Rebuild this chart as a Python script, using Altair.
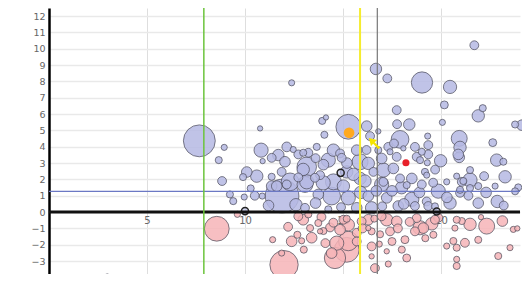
import altair as alt
import pandas as pd

# Positive-change bubbles (x, y, magnitude)
up_x = [21.70,12.38,16.68,17.26,19.03,20.46,20.17,17.74,22.13,21.90,17.76,18.38,20.07,23.78,24.13,13.94,14.13,15.27,14.05,16.21,16.38,16.80,17.91,19.32,20.93,22.64,10.77,7.67,8.94,8.66,8.83,10.82,10.90,10.09,9.90,10.60,10.29,11.36,11.36,11.70,12.13,12.04,11.87,12.46,12.30,12.72,9.23,9.40,9.96,10.88,11.89,
        18.67,12.97,13.66,14.51,14.85,14.25,15.70,15.87,16.80,17.31,17.40,17.74,18.08,18.76,13.15,15.19,16.29,16.97,17.06,16.55,17.57,17.91,18.51,18.25,13.83,13.15,14.51,15.87,17.06,
        19.35,19.02,20.97,20.93,19.98,19.30,19.18,22.84,23.18,21.48,23.27,21.48,20.80,21.06,21.90,20.29,23.94,22.76,19.27,18.93,20.46,21.90,22.87,23.78,20.97,21.48,19.27,19.69,
        12.97,13.06,13.99,14.42,15.02,15.53,16.12,16.29,16.97,17.23,17.99,18.51,19.02,19.86,20.97,21.14,20.88,19.35,12.72,11.36,13.23,14.93,13.57,11.62,12.13,13.74,15.27,15.70,16.46,17.82,18.67,19.35,13.06,14.25,
        12.60,13.60,14.00,15.90,16.70,17.50,18.10,18.90,19.60,20.30,21.40,22.30,22.20,15.20,17.60,19.70,13.60,11.20,10.50,14.90,17.00,23.20,16.20]
up_y = [10.21,7.91,8.76,8.18,7.93,7.66,6.56,6.24,6.36,5.89,5.38,5.36,5.49,5.36,5.32,5.58,5.79,5.22,4.73,5.26,4.65,4.94,4.45,4.65,4.51,4.25,5.12,4.36,3.96,3.18,1.90,3.79,3.12,2.45,2.14,2.20,1.45,2.16,1.59,3.49,3.99,3.08,2.46,3.83,1.85,2.12,1.08,0.67,0.92,0.98,0.98,
        3.99,3.63,3.99,3.79,3.59,3.18,3.79,3.08,3.79,3.99,3.69,3.38,3.90,3.38,2.77,2.46,2.98,3.28,2.57,2.46,2.67,2.06,2.06,1.65,2.26,1.85,1.85,2.06,1.85,
        4.10,3.69,3.96,3.35,3.14,3.02,2.46,3.18,3.08,2.57,2.16,1.96,2.20,1.85,1.59,1.85,1.51,1.59,2.26,3.18,0.55,0.55,0.65,1.27,1.36,1.47,0.65,0.35,
        2.61,1.69,1.79,0.98,1.59,2.31,1.90,0.98,1.69,0.87,1.49,0.78,1.69,1.28,1.18,1.90,3.53,3.53,3.53,3.32,3.63,3.32,2.10,1.59,1.69,1.08,0.87,0.26,0.26,0.37,0.37,0.37,0.26,0.17,
        0.45,0.55,2.90,1.20,1.30,1.30,0.50,1.20,1.80,0.90,1.00,1.20,2.20,3.00,4.20,2.60,3.30,0.40,1.00,0.30,0.35,0.40,3.80]
up_pop = [25,12,42,25,144,56,20,25,16,49,25,42,12,16,36,16,9,196,16,36,25,9,100,12,81,20,9,324,12,16,25,64,9,36,16,49,16,16,36,42,30,36,25,12,100,25,16,16,12,12,361,
          25,16,16,49,25,64,36,81,16,25,12,25,9,25,121,49,49,36,64,25,36,25,36,16,25,64,81,49,25,
          25,16,49,36,49,12,16,49,16,16,49,64,12,25,16,12,16,12,12,16,49,36,49,16,16,16,25,16,
          49,81,64,100,49,49,49,36,64,36,49,64,25,64,25,16,36,25,25,25,25,25,25,36,25,36,64,36,49,36,25,25,25,16,
          49,36,36,49,36,36,36,36,25,36,25,36,25,36,25,25,25,36,25,25,25,25,25]

# Negative-change bubbles
down_x = [9.61,8.56,2.97,11.41,12.38,12.67,11.99,11.87,12.72,12.97,12.89,13.32,13.74,13.83,14.34,14.85,15.02,15.27,14.68,15.27,14.59,14.42,15.19,15.95,16.29,16.46,16.29,16.46,16.85,16.97,17.23,17.40,17.74,18.16,18.67,18.25,16.63,17.31,16.46,18.76,17.23,13.40,13.23,14.00,14.51,15.70,16.89,18.93,19.53,19.86,20.29,20.63,20.80,21.22,21.06,21.48,20.80,20.80,22.04,22.33,23.13,23.69,23.89,22.92,23.52,15.19,19.10,19.61,19.69,20.80,20.71,
          13.90,16.00,17.80,18.40,15.70,17.50,19.20,16.60,14.10,12.20,13.00,21.90,18.00]
down_y = [-0.14,-1.02,-4.00,-1.69,-1.79,-1.39,-3.22,-2.51,-0.26,-0.47,-1.76,-0.98,-0.67,-1.18,-0.94,-1.08,-0.47,-0.78,-1.90,-1.77,-2.81,-2.51,-2.31,-0.57,-0.47,-1.18,-0.98,-2.10,-1.96,-0.26,-0.47,-1.18,-0.57,-1.69,-1.18,-2.81,-3.43,-3.18,-2.71,-0.37,-2.40,-1.57,-0.14,-1.16,-0.65,-1.27,-1.36,-0.96,-0.72,-0.35,-2.08,-1.77,-2.18,-1.88,-0.55,-0.75,-2.89,-3.30,-0.31,-0.86,-0.55,-1.06,-1.00,-2.69,-2.18,-0.41,-0.98,-1.39,-0.47,-0.47,-0.98,
          -0.30,-1.00,-1.00,-0.60,-1.80,-1.80,-1.60,-0.40,-1.90,-0.90,-2.30,-1.70,-2.30]
down_pop = [12,196,16,12,36,16,256,12,25,36,12,16,16,9,25,36,25,49,64,121,144,36,196,25,36,16,9,25,12,25,49,25,36,20,25,20,25,12,9,25,9,36,16,16,25,25,16,64,49,25,12,16,16,25,16,49,12,16,9,81,36,12,9,16,12,16,36,16,25,16,12,
            25,25,25,25,25,20,16,16,25,25,16,16,16]

# Highlighted (outlined) bubbles
ring_x = [14.88, 10.00, 19.78]
ring_y = [2.40, 0.06, 0.04]

# Reference lines
green_x = [7.9]
yellow_x = [15.87]
gray_x = [16.75]
blue_y = [1.27]
zero_y = [0]

# Marked entries
orange_pt = {"x": [15.31], "y": [4.85]}
yellow_pt = {"x": [16.63], "y": [4.16]}
red_pt = {"x": [18.21], "y": [3.02]}

y_ticks = list(range(-3, 13))
x_ticks = [5, 10, 15, 20]

rows = [{"x": a, "y": b, "pop": c, "grp": "up"} for a, b, c in zip(up_x, up_y, up_pop)]
rows += [{"x": a, "y": b, "pop": c, "grp": "down"} for a, b, c in zip(down_x, down_y, down_pop)]
df = pd.DataFrame(rows)

XS = alt.Scale(domain=[0, 24.03], nice=False, zero=False)
YS = alt.Scale(domain=[-3.79, 12.49], nice=False, zero=False)
SS = alt.Scale(type="linear", domain=[0, 100], range=[0, 314.16])

x_axis = alt.Axis(values=x_ticks, offset=-62, domain=False, ticks=False, grid=True,
                  gridColor="#dedede", gridWidth=1, labelColor="#666", labelFontSize=10,
                  labelPadding=3, title=None, labelFont="DejaVu Sans", labelOverlap=False)
y_axis = alt.Axis(values=y_ticks, domainColor="black", domainWidth=2.5, ticks=False,
                  grid=True, gridColor="#e9e9e9", gridWidth=1.5, labelColor="#666",
                  labelFontSize=9.5, labelPadding=4, title=None, labelFont="DejaVu Sans",
                  labelOverlap=False, labelFlush=False)

def X():
    return alt.X("x:Q", scale=XS, axis=x_axis, title=None)

def Y():
    return alt.Y("y:Q", scale=YS, axis=y_axis, title=None)

bubbles = alt.Chart(df).mark_circle(fillOpacity=0.85, stroke="#4a4a58", strokeWidth=1, strokeOpacity=0.7).encode(
    x=X(),
    y=Y(),
    size=alt.Size("pop:Q", scale=SS, legend=None),
    color=alt.Color("grp:N", scale=alt.Scale(domain=["up", "down"], range=["#b5b9e3", "#f6b4b7"]), legend=None),
    order=alt.Order("pop:Q", sort="descending"),
)

rings = alt.Chart(pd.DataFrame({"x": ring_x, "y": ring_y})).mark_circle(
    size=50, fill="#b3b8e2", fillOpacity=0.6, stroke="#222", strokeWidth=1.5
).encode(x=X(), y=Y())

def vline(vals, color, w):
    return alt.Chart(pd.DataFrame({"x": vals})).mark_rule(color=color, strokeWidth=w).encode(x=X())

def hline(vals, color, w):
    return alt.Chart(pd.DataFrame({"y": vals})).mark_rule(color=color, strokeWidth=w).encode(y=Y())

orange = alt.Chart(pd.DataFrame(orange_pt)).mark_circle(size=113, color="#ffa91f", opacity=1).encode(x=X(), y=Y())
red = alt.Chart(pd.DataFrame(red_pt)).mark_circle(size=50, color="#e8202a", opacity=1).encode(x=X(), y=Y())
arrow_path = "M-1,-1 L0.35,-0.65 L-0.05,-0.3 L0.85,0.55 L0.55,0.85 L-0.3,-0.05 L-0.65,0.35 Z"
yellow = alt.Chart(pd.DataFrame(yellow_pt)).mark_point(shape=arrow_path, size=150, filled=True,
                                                        color="#f5e400", opacity=1).encode(x=X(), y=Y())

chart = alt.layer(
    bubbles,
    rings,
    hline(blue_y, "#6b78c4", 1.2),
    hline(zero_y, "#111111", 3),
    vline(green_x, "#6cc43c", 1.5),
    vline(yellow_x, "#f5ec2e", 2),
    vline(gray_x, "#777777", 1.2),
    orange,
    red,
    yellow,
).properties(
    width=471, height=266,
    autosize=alt.AutoSizeParams(type="none"),
    padding={"left": 41, "top": 0, "right": 2, "bottom": 0},
    background="white",
).configure_view(stroke=None)

chart.save("out.html", embed_options={"renderer": "svg", "actions": False})
